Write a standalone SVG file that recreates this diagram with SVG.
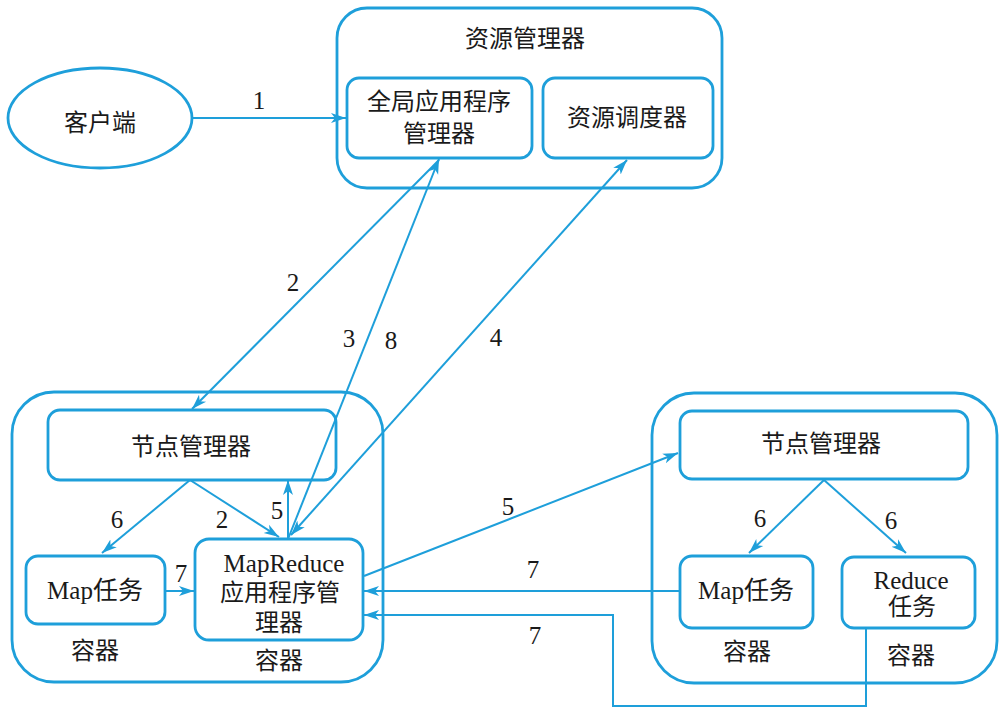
<svg xmlns="http://www.w3.org/2000/svg" width="1000" height="712" viewBox="0 0 1000 712">
<defs>
<marker id="ah" markerUnits="userSpaceOnUse" markerWidth="16" markerHeight="12" refX="15" refY="5" orient="auto-start-reverse" viewBox="0 0 16 10">
<path d="M0,0 L15,5 L0,10 L4,5 z" fill="#1e9fda"/>
</marker>
</defs>
<style>
.box{fill:none;stroke:#1e9fda;stroke-width:2.8}
.ln{fill:none;stroke:#1e9fda;stroke-width:2}
.t{font-family:"Liberation Serif","Noto Sans CJK SC",serif;font-size:24px;fill:#1a1a1a;text-anchor:middle;dominant-baseline:central}
.n{font-size:25px}
</style>
<rect width="1000" height="712" fill="#ffffff"/>

<g id="client">
<ellipse class="box" cx="100" cy="118" rx="92" ry="50"/>
<text class="t" x="100" y="123">客户端</text>
</g>

<g id="resource-manager">
<rect class="box" x="337" y="8" width="385" height="180" rx="30"/>
<text class="t" x="525" y="39">资源管理器</text>
</g>
<g id="app-manager-global">
<rect class="box" x="347" y="78" width="185" height="80" rx="12"/>
<text class="t" x="439" y="102">全局应用程序</text>
<text class="t" x="439" y="134">管理器</text>
</g>
<g id="scheduler">
<rect class="box" x="543" y="78" width="170" height="80" rx="12"/>
<text class="t" x="627" y="118">资源调度器</text>
</g>

<g id="left-node">
<rect class="box" x="12" y="392" width="371" height="290" rx="42"/>
</g>
<g id="left-nodemanager">
<rect class="box" x="48" y="410" width="288" height="70" rx="12"/>
<text class="t" x="191" y="447">节点管理器</text>
</g>
<g id="left-map">
<rect class="box" x="26" y="556" width="139" height="68" rx="12"/>
<text class="t n" x="95" y="590">Map任务</text>
<text class="t" x="95" y="651">容器</text>
</g>
<g id="mr-appmaster">
<rect class="box" x="195" y="539" width="168" height="101" rx="14"/>
<text class="t n" x="284" y="563">MapReduce</text>
<text class="t" x="280" y="593">应用程序管</text>
<text class="t" x="279" y="623">理器</text>
<text class="t" x="279" y="661">容器</text>
</g>

<g id="right-node">
<rect class="box" x="652" y="393" width="345" height="290" rx="42"/>
</g>
<g id="right-nodemanager">
<rect class="box" x="680" y="411" width="288" height="68" rx="12"/>
<text class="t" x="821" y="444">节点管理器</text>
</g>
<g id="right-map">
<rect class="box" x="680" y="556" width="133" height="72" rx="12"/>
<text class="t n" x="746" y="590">Map任务</text>
<text class="t" x="747" y="652">容器</text>
</g>
<g id="right-reduce">
<rect class="box" x="842" y="557" width="133" height="71" rx="12"/>
<text class="t n" x="911" y="580">Reduce</text>
<text class="t" x="912" y="607">任务</text>
<text class="t" x="911" y="656">容器</text>
</g>

<g id="connectors">
<line class="ln" x1="192" y1="118" x2="346" y2="118" marker-end="url(#ah)"/>
<line class="ln" x1="439" y1="160" x2="192" y2="409" marker-end="url(#ah)"/>
<line class="ln" x1="288" y1="539" x2="439" y2="159" marker-end="url(#ah)"/>
<line class="ln" x1="627" y1="160" x2="291" y2="535" marker-start="url(#ah)" marker-end="url(#ah)"/>
<line class="ln" x1="190" y1="480" x2="102" y2="553" marker-end="url(#ah)"/>
<line class="ln" x1="190" y1="480" x2="279" y2="537" marker-end="url(#ah)"/>
<line class="ln" x1="288" y1="539" x2="288" y2="480" marker-end="url(#ah)"/>
<line class="ln" x1="165" y1="591" x2="194" y2="591" marker-end="url(#ah)"/>
<line class="ln" x1="364" y1="576" x2="678" y2="453" marker-end="url(#ah)"/>
<line class="ln" x1="824" y1="480" x2="749" y2="553" marker-end="url(#ah)"/>
<line class="ln" x1="824" y1="480" x2="906" y2="553" marker-end="url(#ah)"/>
<line class="ln" x1="680" y1="591" x2="364" y2="591" marker-end="url(#ah)"/>
<polyline class="ln" points="866,628 866,706 613,706 613,615 364,615" marker-end="url(#ah)"/>
</g>

<g id="labels">
<text class="t n" x="259" y="100">1</text>
<text class="t n" x="293" y="282">2</text>
<text class="t n" x="349" y="338">3</text>
<text class="t n" x="391" y="340">8</text>
<text class="t n" x="496" y="337">4</text>
<text class="t n" x="117" y="519">6</text>
<text class="t n" x="222" y="519">2</text>
<text class="t n" x="277" y="510">5</text>
<text class="t n" x="181" y="573">7</text>
<text class="t n" x="508" y="506">5</text>
<text class="t n" x="533" y="569">7</text>
<text class="t n" x="535" y="635">7</text>
<text class="t n" x="760" y="518">6</text>
<text class="t n" x="891" y="520">6</text>
</g>
</svg>
